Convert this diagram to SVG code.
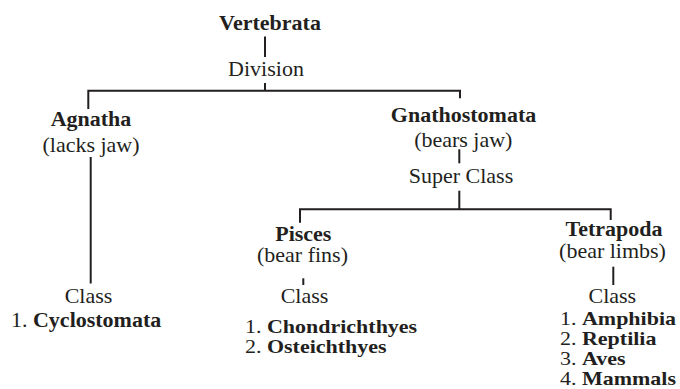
<svg xmlns="http://www.w3.org/2000/svg" width="680" height="389" viewBox="0 0 680 389">
  <style>
    text { font-family: "Liberation Serif", "Times New Roman", Times, serif; font-size: 20px; fill: #231f20; }
    text.li { font-size: 18px; }
    .b { font-weight: bold; }
    .c { text-anchor: middle; }
    .ln { fill: none; stroke: #231f20; stroke-width: 2; stroke-linejoin: miter; }
  </style>
  <rect width="680" height="389" fill="#ffffff"/>

  <!-- connectors -->
  <g id="connectors" class="ln">
    <path d="M265 36.5V57"/>
    <path d="M265 83V90.7"/>
    <path d="M88.3 109V90.7H460V98.3"/>
    <path d="M90.7 157V283.5"/>
    <path d="M459.3 149.3V163.3"/>
    <path d="M459.3 190.7V209.3"/>
    <path d="M300 222.7V209.3H610.7V220"/>
    <path d="M303.3 278.3V285"/>
    <path d="M613.3 266.7V285"/>
  </g>

  <!-- labels use a slightly widened face: scale(1.1 1) about the anchor;
       tightly stacked list lines are set smaller and widened to the same width -->
  <g id="vertebrata">
    <text class="b c" transform="translate(270 29.5) scale(1.1 1)">Vertebrata</text>
    <text class="c" transform="translate(266 76) scale(1.1 1)">Division</text>
  </g>

  <g id="agnatha">
    <text class="b c" transform="translate(91 126) scale(1.1 1)">Agnatha</text>
    <text class="c" transform="translate(91 151.5) scale(1.1 1)">(lacks jaw)</text>
  </g>

  <g id="agnatha-class">
    <text class="c" transform="translate(88.5 303.3) scale(1.1 1)">Class</text>
    <text transform="translate(11 326.5) scale(1.1 1)">1. <tspan class="b">Cyclostomata</tspan></text>
  </g>

  <g id="gnathostomata">
    <text class="b c" transform="translate(463.5 121.5) scale(1.1 1)">Gnathostomata</text>
    <text class="c" transform="translate(463.3 146.5) scale(1.1 1)">(bears jaw)</text>
    <text class="c" transform="translate(461 182.5) scale(1.1 1)">Super Class</text>
  </g>

  <g id="pisces">
    <text class="b c" transform="translate(303.3 240.5) scale(1.1 1)">Pisces</text>
    <text class="c" transform="translate(302.5 262) scale(1.1 1)">(bear fins)</text>
  </g>

  <g id="pisces-class">
    <text class="c" transform="translate(304.5 303.3) scale(1.1 1)">Class</text>
    <text class="li" transform="translate(245 332.8) scale(1.222 1)">1. <tspan class="b">Chondrichthyes</tspan></text>
    <text class="li" transform="translate(245 352.7) scale(1.222 1)">2. <tspan class="b">Osteichthyes</tspan></text>
  </g>

  <g id="tetrapoda">
    <text class="b c" transform="translate(614 235.5) scale(1.1 1)">Tetrapoda</text>
    <text class="c" transform="translate(612.5 258) scale(1.1 1)">(bear limbs)</text>
  </g>

  <g id="tetrapoda-class">
    <text class="c" transform="translate(612.3 303.3) scale(1.1 1)">Class</text>
    <text class="li" transform="translate(560 325.3) scale(1.222 1)">1. <tspan class="b">Amphibia</tspan></text>
    <text class="li" transform="translate(560 345.2) scale(1.222 1)">2. <tspan class="b">Reptilia</tspan></text>
    <text class="li" transform="translate(560 365.1) scale(1.222 1)">3. <tspan class="b">Aves</tspan></text>
    <text class="li" transform="translate(560 385) scale(1.222 1)">4. <tspan class="b">Mammals</tspan></text>
  </g>
</svg>
